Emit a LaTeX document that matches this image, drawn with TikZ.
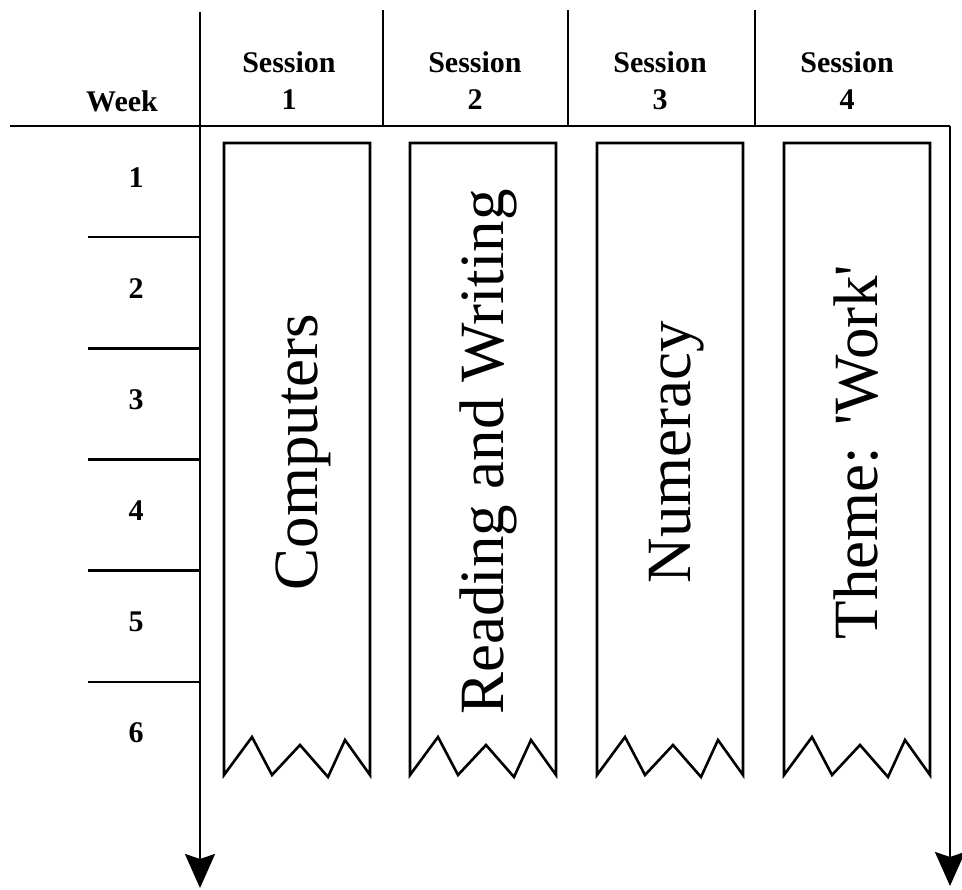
\documentclass[tikz,border=0pt]{standalone}
\usepackage{fontspec}
\setmainfont{Liberation Serif}
\usetikzlibrary{arrows.meta}

\begin{document}
\begin{tikzpicture}[x=1pt, y=-1pt, line width=2.6pt,
        head/.style = {font=\fontsize{30}{36}\selectfont\bfseries, inner sep=0pt},
        topic/.style = {font=\fontsize{63}{63}\selectfont, rotate=90, anchor=base, inner sep=0pt},
        timeline/.style = {-{Stealth[length=34pt, width=30pt, inset=5pt]}}]
        \useasboundingbox (0,0) rectangle (962,890);

        % Grid lines and the two time arrows
        \coordinate (lt) at (200,12);
        \coordinate (lb) at (200,888);
        \coordinate (hl) at (10,126);
        \coordinate (rt) at (950,126);
        \coordinate (rb) at (950,886);
        \draw (hl) -- (rt);
        \draw[timeline] (lt) -- (lb);
        \draw[timeline] (rt) -- (rb);
        \foreach \x in {383,568,755}
            \draw (\x,10) -- (\x,126);

        % Column heads
        \node[head, anchor=base] (week) at (122,112) {Week};
        \foreach \x [count=\i] in {289,475,660,847} {
            \node[head, anchor=base] (ses\i) at (\x,73) {Session};
            \node[head, anchor=base] (num\i) at (\x,110) {\i};
        }

        % Week rows
        \foreach \w in {1,...,6}
            \node[head] (wk\w) at (136,66+111.2*\w) {\w};
        \foreach \w in {1,...,5}
            \draw (88,126+111.2*\w) -- (200,126+111.2*\w);

        % Banners, torn at the bottom
        \foreach \c/\t [count=\i] in {297/Computers, 483/Reading and Writing, 670/Numeracy, 857/{Theme: \textquotesingle Work\textquotesingle}} {
            \draw (\c-73,775) -- (\c-73,143) -- (\c+73,143) -- (\c+73,775)
                -- (\c+48,740) -- (\c+31,777) -- (\c+3,745) -- (\c-25,775) -- (\c-45,737) -- cycle;
            \node[topic] (topic\i) at (\c+20,452) {\t};
        }
    \end{tikzpicture}
\end{document}
